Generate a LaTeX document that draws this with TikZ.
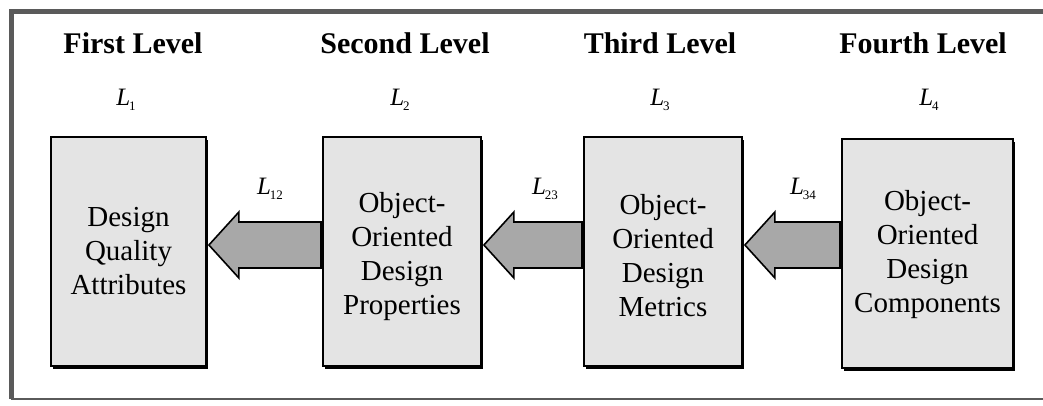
\documentclass[tikz,border=0pt]{standalone}
\usepackage{fontspec}
\setmainfont{Liberation Serif}
\usetikzlibrary{calc}
% level symbol: italic L with a small lowered index
\newcommand{\levsym}[1]{{\itshape L}\kern-1pt\raisebox{-5pt}{\fontsize{13}{13}\selectfont #1}}
\tikzset{
  levelbox/.style={draw=black, line width=1.8pt, fill=boxgray, inner sep=0pt},
  boxtext/.style={align=center, font=\fontsize{29}{34}\selectfont},
  title/.style={font=\fontsize{30}{32}\selectfont\bfseries},
  sym/.style={font=\fontsize{25}{27}\selectfont},
  fatarrow/.style={draw=black, line width=1.6pt, fill=arrowgray, line join=miter},
}
\definecolor{boxgray}{HTML}{E4E4E4}
\definecolor{arrowgray}{HTML}{A8A8A8}
\definecolor{framegray}{HTML}{5A5A5A}
\begin{document}
\begin{tikzpicture}[x=1pt, y=-1pt]
\useasboundingbox (0,0) rectangle (1043,405);
\fill[white] (0,0) rectangle (1043,405);
% outer frame, open to the right
\draw[framegray, line width=5pt] (11,399) -- (11,11) -- (1050,11);
\draw[framegray, line width=2.5pt] (11,399) -- (1050,399);

% drop shadows of the boxes
\foreach \a/\b/\c/\d in {51/137/206/366, 323/137/481/366, 584/137/742/366, 842/139/1013/368}
  \fill[black] (\a+2,\b+3) rectangle (\c+2,\d+3);

% level boxes
\node[levelbox, minimum width=155pt, minimum height=229pt] (b1) at (128.5,251.5) {};
\node[levelbox, minimum width=158pt, minimum height=229pt] (b2) at (402,251.5) {};
\node[levelbox, minimum width=158pt, minimum height=229pt] (b3) at (663,251.5) {};
\node[levelbox, minimum width=171pt, minimum height=229pt] (b4) at (927.5,253.5) {};

\node[boxtext] (t1) at (b1.center) {Design\\Quality\\Attributes};
\node[boxtext] (t2) at ($(b2.center)+(0,5)$) {Object-\\Oriented\\Design\\Properties};
\node[boxtext] (t3) at ($(b3.center)+(0,4)$) {Object-\\Oriented\\Design\\Metrics};
\node[boxtext] (t4) at ($(b4.center)+(0,1)$) {Object-\\Oriented\\Design\\Components};

% level headings
\node[title] (h1) at (133,43) {First Level};
\node[title] (h2) at (405,43) {Second Level};
\node[title] (h3) at (660,43) {Third Level};
\node[title] (h4) at (923,43) {Fourth Level};

\node[sym] (l1) at (126,100) {\levsym{1}};
\node[sym] (l2) at (400,100) {\levsym{2}};
\node[sym] (l3) at (660,100) {\levsym{3}};
\node[sym] (l4) at (929,100) {\levsym{4}};

% block arrows between the levels
\foreach \src/\dst in {b2/b1, b3/b2, b4/b3}{
  \draw[fatarrow] let \p1=(\dst.east), \p2=(\src.west) in
    (\x2,245-23) -- (\x1+32,245-23) -- (\x1+32,245-33) -- (\x1+2,245)
    -- (\x1+32,245+33) -- (\x1+32,245+23) -- (\x2,245+23) -- cycle;
  % heavier box edge where the arrow leaves it
  \draw[black, line width=3.5pt] let \p2=(\src.west) in
    (\x2,245-23) -- (\x2,245+23);
}

\node[sym] (l12) at (270,189) {\levsym{12}};
\node[sym] (l23) at (545,189) {\levsym{23}};
\node[sym] (l34) at (803,189) {\levsym{34}};
\end{tikzpicture}
\end{document}
